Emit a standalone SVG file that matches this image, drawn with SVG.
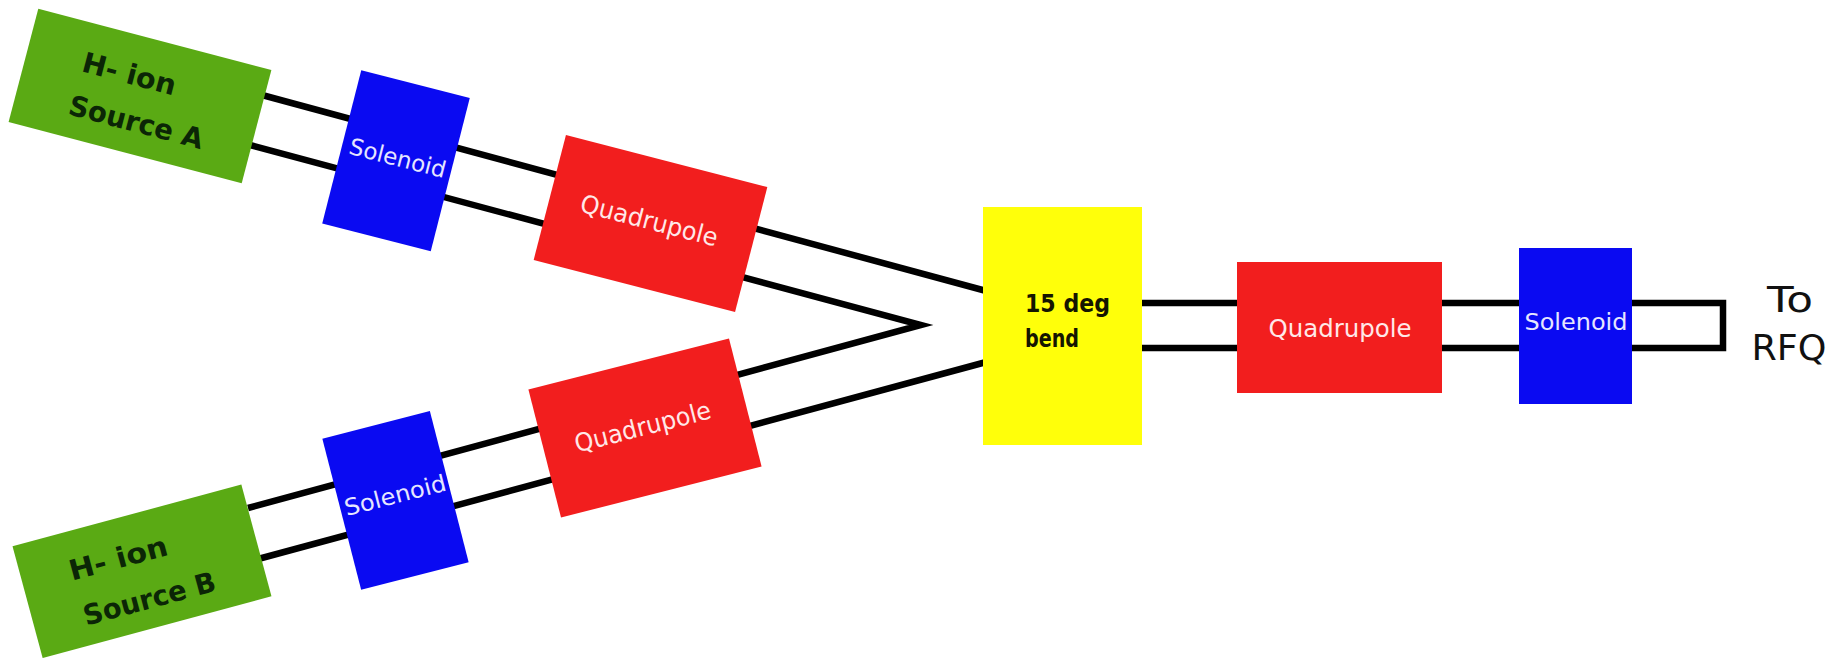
<svg xmlns="http://www.w3.org/2000/svg" width="1840" height="658" viewBox="0 0 1840 658">
  <style>
    .beam { fill: none; stroke: #000; stroke-width: 6.5; stroke-linejoin: miter; stroke-miterlimit: 6; }
    .source { fill: #5aaa14; }
    .solenoid { fill: #0a0af2; }
    .quad { fill: #f21e1e; }
    .bend { fill: #ffff0a; }
    .lbl { font-family: "DejaVu Sans", "Liberation Sans", sans-serif; }
    .src-t { fill: #0b2606; font-size: 28px; font-weight: bold; }
    .sol-t { fill: #e6e6ff; font-size: 23px; text-anchor: middle; }
    .quad-t { fill: #ffe8e8; font-size: 25px; text-anchor: middle; }
    .bend-t { fill: #151500; font-size: 24px; font-weight: bold; }
    .out-t { fill: #111; font-size: 35px; text-anchor: middle; }
  </style>

  <!-- beam pipes (drawn under the components) -->
  <g id="connectors">
    <!-- branch A, upper wall -->
    <line class="beam" x1="262" y1="95" x2="990" y2="292"/>
    <!-- inner walls of both branches meeting at the merge point -->
    <polyline class="beam" points="250,145 921,325 248,508"/>
    <!-- branch B, lower wall -->
    <line class="beam" x1="260" y1="558.5" x2="990" y2="361"/>
    <!-- straight line to the RFQ, closed at the end -->
    <polyline class="beam" points="1140,303 1723,303 1723,348 1140,348"/>
  </g>

  <!-- ion source A -->
  <g id="source-a" transform="translate(140,96) rotate(14.7)">
    <rect class="source" x="-120.5" y="-58.5" width="241" height="117"/>
    <text class="lbl src-t" x="-64" y="-9" textLength="96" lengthAdjust="spacingAndGlyphs">H- ion</text>
    <text class="lbl src-t" x="-66" y="36" textLength="138" lengthAdjust="spacingAndGlyphs">Source A</text>
  </g>

  <!-- solenoid, branch A -->
  <g id="solenoid-a" transform="translate(396,160.75) rotate(14.3)">
    <rect class="solenoid" x="-56" y="-79" width="112" height="158"/>
    <text class="lbl sol-t" x="1" y="5" textLength="99" lengthAdjust="spacingAndGlyphs">Solenoid</text>
  </g>

  <!-- quadrupole, branch A -->
  <g id="quad-a" transform="translate(650.5,223.5) rotate(14.5)">
    <rect class="quad" x="-104" y="-64.5" width="208" height="129"/>
    <text class="lbl quad-t" x="-2" y="6" textLength="141" lengthAdjust="spacingAndGlyphs">Quadrupole</text>
  </g>

  <!-- ion source B -->
  <g id="source-b" transform="translate(142,571.3) rotate(-15.1)">
    <rect class="source" x="-118.5" y="-57.85" width="237" height="115.7"/>
    <text class="lbl src-t" x="-70" y="-9" textLength="101" lengthAdjust="spacingAndGlyphs">H- ion</text>
    <text class="lbl src-t" x="-68" y="38" textLength="136" lengthAdjust="spacingAndGlyphs">Source B</text>
  </g>

  <!-- solenoid, branch B -->
  <g id="solenoid-b" transform="translate(395.5,500.4) rotate(-14.4)">
    <rect class="solenoid" x="-55.5" y="-78" width="111" height="156"/>
    <text class="lbl sol-t" x="1" y="3" textLength="104" lengthAdjust="spacingAndGlyphs">Solenoid</text>
  </g>

  <!-- quadrupole, branch B -->
  <g id="quad-b" transform="translate(645,428) rotate(-14.3)">
    <rect class="quad" x="-103.5" y="-66" width="207" height="132"/>
    <text class="lbl quad-t" x="-2" y="7" textLength="140" lengthAdjust="spacingAndGlyphs">Quadrupole</text>
  </g>

  <!-- 15 degree bending magnet -->
  <g id="bend">
    <rect class="bend" x="983" y="207" width="159" height="238"/>
    <text class="lbl bend-t" x="1025" y="312" textLength="85" lengthAdjust="spacingAndGlyphs">15 deg</text>
    <text class="lbl bend-t" x="1025" y="347" textLength="54" lengthAdjust="spacingAndGlyphs">bend</text>
  </g>

  <!-- quadrupole after the bend -->
  <g id="quad-c">
    <rect class="quad" x="1237" y="262" width="205" height="131"/>
    <text class="lbl quad-t" x="1340" y="337" textLength="143" lengthAdjust="spacingAndGlyphs">Quadrupole</text>
  </g>

  <!-- solenoid after the bend -->
  <g id="solenoid-c">
    <rect class="solenoid" x="1519" y="248" width="113" height="156"/>
    <text class="lbl sol-t" x="1576" y="330" textLength="103" lengthAdjust="spacingAndGlyphs">Solenoid</text>
  </g>

  <!-- destination label -->
  <g id="to-rfq">
    <text class="lbl out-t" x="1790" y="312" textLength="46" lengthAdjust="spacingAndGlyphs">To</text>
    <text class="lbl out-t" x="1789" y="360" textLength="75" lengthAdjust="spacingAndGlyphs">RFQ</text>
  </g>
</svg>
